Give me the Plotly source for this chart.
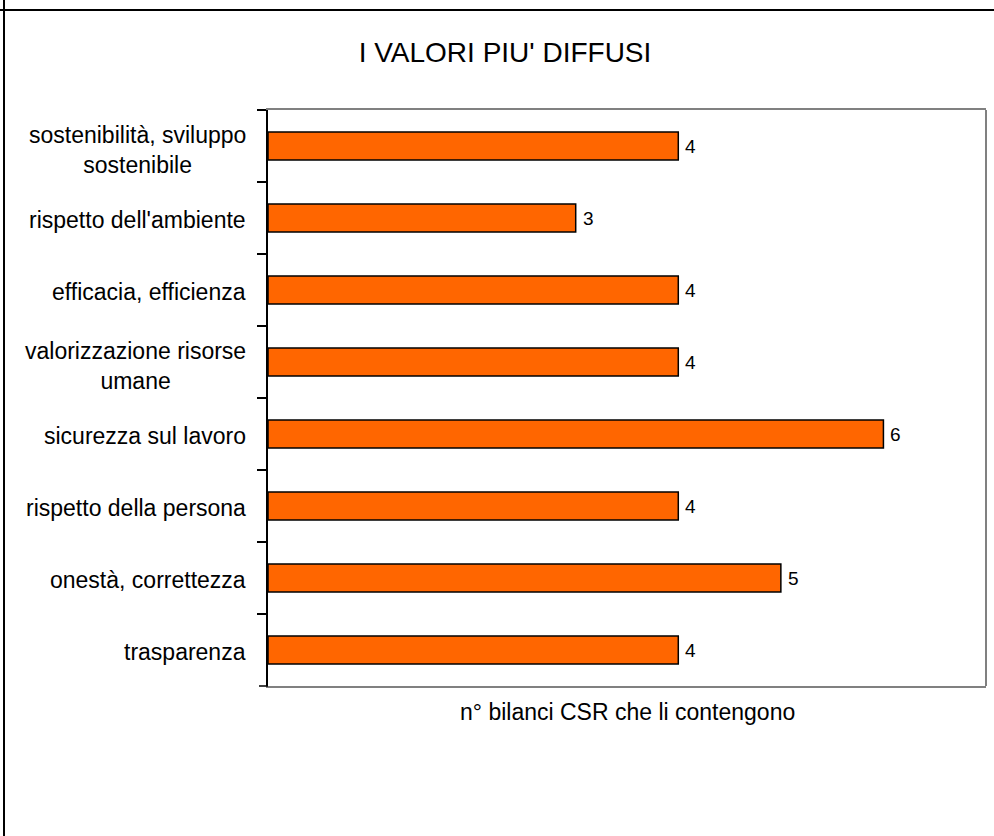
import plotly.graph_objects as go

categories = [
    "sostenibilità, sviluppo<br>sostenibile",
    "rispetto dell'ambiente",
    "efficacia, efficienza",
    "valorizzazione risorse<br>umane",
    "sicurezza sul lavoro",
    "rispetto della persona",
    "onestà, correttezza",
    "trasparenza",
]
values = [4, 3, 4, 4, 6, 4, 5, 4]
title_text = "I VALORI PIU' DIFFUSI"
x_title = "n° bilanci CSR che li contengono"

W, H = 994, 836
L, R, T, B = 268, 8, 110, 150
pw, ph = W - L - R, H - T - B

def px_x(p):
    return (p - L) / pw

def px_y(p):
    return (H - B - p) / ph

FONT = "Liberation Sans, Arial, sans-serif"

fig = go.Figure(go.Bar(
    x=values,
    y=categories,
    orientation="h",
    marker=dict(color="#FF6600", line=dict(color="black", width=1.5)),
    hoverinfo="x+y",
))

annotations = []
for c in categories:
    annotations.append(dict(
        x=0, xref="paper", y=c, yref="y", xshift=-20,
        yshift=-4 if "<br>" in c else -2,
        xanchor="right", yanchor="middle", align="center",
        text=c, showarrow=False,
        font=dict(size=23, color="black", family=FONT),
    ))
for c, v in zip(categories, values):
    annotations.append(dict(
        x=v, xref="x", y=c, yref="y", xshift=5,
        xanchor="left", yanchor="middle",
        text=str(v), showarrow=False,
        font=dict(size=19, color="black", family=FONT),
    ))
annotations.append(dict(
    x=0.5, xref="paper", y=px_y(712), yref="paper",
    xanchor="center", yanchor="middle",
    text=x_title, showarrow=False,
    font=dict(size=23, color="black", family=FONT),
))

shapes = [
    # outer border lines
    dict(type="line", xref="paper", yref="paper",
         x0=px_x(4), x1=px_x(4), y0=px_y(0), y1=px_y(H),
         line=dict(color="black", width=2)),
    dict(type="line", xref="paper", yref="paper",
         x0=px_x(0), x1=px_x(W), y0=px_y(10), y1=px_y(10),
         line=dict(color="black", width=2)),
    # right frame line
    dict(type="line", xref="paper", yref="paper",
         x0=1, x1=1, y0=0, y1=1,
         line=dict(color="#808080", width=2)),
    # bottom tick of the category axis
    dict(type="line", xref="paper", yref="paper",
         x0=px_x(259), x1=0, y0=0, y1=0,
         line=dict(color="black", width=1.5)),
]

fig.update_layout(
    width=W, height=H,
    margin=dict(l=L, r=R, t=T, b=B, pad=0),
    paper_bgcolor="white",
    plot_bgcolor="white",
    showlegend=False,
    bargap=0.61,
    font=dict(family=FONT, color="black"),
    title=dict(text=title_text, x=505 / W, xref="container", xanchor="center",
               y=1 - 52 / H, yref="container", yanchor="middle",
               font=dict(size=28, color="black", family=FONT)),
    xaxis=dict(range=[0, 7], showgrid=False, zeroline=False,
               showticklabels=False, ticks="",
               showline=True, linecolor="#808080", linewidth=2, mirror=True),
    yaxis=dict(autorange="reversed", showgrid=False, zeroline=False,
               showticklabels=False, ticks="outside", ticklen=9,
               tickwidth=1.5, tickcolor="black", tickson="boundaries",
               showline=True, linecolor="black", linewidth=1.5),
    annotations=annotations,
    shapes=shapes,
)

fig.write_html("out.html",
               config={"displayModeBar": False},
               post_script="document.body.style.margin='0';"
                           "document.body.style.padding='0';")
